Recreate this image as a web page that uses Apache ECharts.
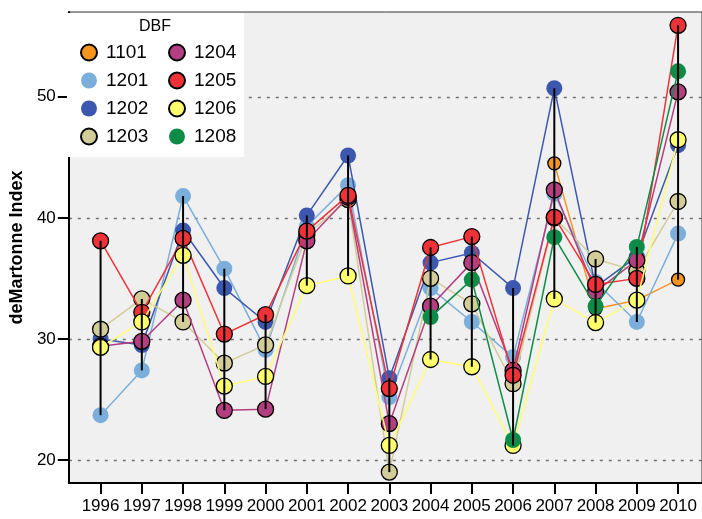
<!DOCTYPE html>
<html>
<head>
<meta charset="utf-8">
<script src="https://cdn.jsdelivr.net/npm/echarts@6/dist/echarts.min.js"></script>
<style>
html,body{margin:0;padding:0;background:#fff;}
#chart{width:702px;height:519px;}
</style>
</head>
<body>
<div id="chart"></div>
<script>
var years = [1996,1997,1998,1999,2000,2001,2002,2003,2004,2005,2006,2007,2008,2009,2010];
var yTicks = [20,30,40,50];
var seriesNames = ['1101','1201','1202','1203','1204','1205','1206','1208'];
var s1101 = [null,null,null,null,null,null,null,null,null,null,null,44.5,32.5,33.2,34.9];
var s1201 = [23.7,27.4,41.8,35.8,29.1,39.3,42.7,25.2,34.2,31.4,28.5,42.0,34.7,31.4,38.7];
var s1202 = [30.0,29.5,38.95,34.2,31.4,40.2,45.15,26.75,36.3,37.1,34.2,50.7,34.3,36.8,46.0];
var s1203 = [30.8,33.3,31.4,28.0,29.5,38.6,41.5,19.0,35.0,32.9,26.3,40.0,36.6,35.6,41.35];
var s1204 = [29.4,29.8,33.2,24.1,24.2,38.1,41.7,23.0,32.7,36.3,27.4,42.3,33.9,36.5,50.4];
var s1205 = [38.1,32.2,38.3,30.4,32.0,38.9,41.85,25.9,37.55,38.45,27.0,40.05,34.5,35.0,55.9];
var s1206 = [29.3,31.4,36.9,26.1,26.9,34.4,35.2,21.2,28.3,27.7,21.2,33.3,31.35,33.2,46.45];
var s1208 = [null,null,null,null,null,null,null,null,31.8,34.9,21.65,38.4,32.7,37.6,52.1];

var allValues = [s1101,s1201,s1202,s1203,s1204,s1205,s1206,s1208];
var colors = ['#F7941E','#7BAEDB','#3C58AE','#D2CD98','#B43F80','#EE3238','#FFFF6E','#0E8C47'];
var bordered = [true,false,false,true,true,true,true,false];
var sizes = [13,16,16,16,16,16,16,16];

var FONT = "'Liberation Sans', Arial, sans-serif";

var series = allValues.map(function(vals, k){
  return {
    name: seriesNames[k],
    type: 'line',
    data: years.map(function(y,i){ return [y, vals[i]]; }),
    symbol: 'circle',
    symbolSize: sizes[k],
    showSymbol: true,
    connectNulls: false,
    z: 2 + k*0.01,
    lineStyle: {color: colors[k], width: 1.5},
    itemStyle: {color: colors[k], borderColor: bordered[k] ? '#000' : colors[k], borderWidth: bordered[k] ? 1.3 : 0, opacity: 1},
    emphasis: {disabled: true},
    animation: false
  };
});

var rangeData = years.map(function(y,i){
  var v = allValues.map(function(a){return a[i];}).filter(function(x){return x!=null;});
  return [y, Math.min.apply(null,v), Math.max.apply(null,v)];
});

series.push({
  type: 'custom',
  name: 'range',
  data: rangeData,
  encode: {x: 0, y: [1,2]},
  z: 10,
  silent: true,
  animation: false,
  renderItem: function(params, api){
    var p1 = api.coord([api.value(0), api.value(1)]);
    var p2 = api.coord([api.value(0), api.value(2)]);
    return {type:'line', shape:{x1:p1[0],y1:p1[1],x2:p2[0],y2:p2[1]}, style:{stroke:'#000', lineWidth:2}};
  }
});

var chart = echarts.init(document.getElementById('chart'), null, {renderer:'canvas'});
chart.setOption({
  animation: false,
  backgroundColor: '#fff',
  textStyle: {fontFamily: FONT},
  grid: {left: 66, right: -2, top: 12, bottom: 36, show: true, backgroundColor: '#F0F0F0', borderColor: '#333', borderWidth: 1},
  xAxis: {
    type: 'value', min: 1995.23, max: 2010.58,
    axisLine: {show: true, lineStyle: {color: '#000', width: 2}},
    axisTick: {show: true, length: 11, lineStyle: {color:'#000', width: 2}, customValues: years},
    axisLabel: {customValues: years, color: '#000', fontSize: 17, fontFamily: FONT, margin: 15, formatter: function(v){return String(v);}},
    splitLine: {show: false}
  },
  yAxis: {
    type: 'value', min: 18.1, max: 57,
    name: 'deMartonne Index', nameLocation: 'middle', nameGap: 40,
    nameTextStyle: {fontSize: 18, fontWeight: 'bold', color: '#000', fontFamily: FONT},
    axisLine: {show: true, lineStyle: {color: '#000', width: 2}},
    axisTick: {show: true, length: 11, lineStyle: {color:'#000', width: 2}, customValues: yTicks},
    axisLabel: {customValues: yTicks, color: '#000', fontSize: 17, fontFamily: FONT, margin: 13},
    splitLine: {show: true, lineStyle: {color: '#707070', type: [3,6], width: 1.3}}
  },
  legend: [
    {data: seriesNames.slice(0,4), orient: 'vertical', left: 80, top: 43, padding: 0, itemGap: 9, itemWidth: 16, itemHeight: 16, icon: 'circle',
     textStyle: {fontSize: 19, color:'#000', fontFamily: FONT, lineHeight: 19, padding:[0,0,0,4]}, selectedMode: false, z: 5},
    {data: seriesNames.slice(4), orient: 'vertical', left: 168, top: 43, padding: 0, itemGap: 9, itemWidth: 16, itemHeight: 16, icon: 'circle',
     textStyle: {fontSize: 19, color:'#000', fontFamily: FONT, lineHeight: 19, padding:[0,0,0,4]}, selectedMode: false, z: 5}
  ],
  graphic: [
    {type: 'rect', z: 1, shape: {x: 67, y: 13, width: 177, height: 144}, style: {fill: '#fff'}},
    {type: 'text', z: 5, x: 155, y: 27, style: {text: 'DBF', align: 'center', verticalAlign: 'middle', font: '16px ' + FONT, fill: '#000'}}
  ],
  series: series
});
</script>
</body>
</html>
